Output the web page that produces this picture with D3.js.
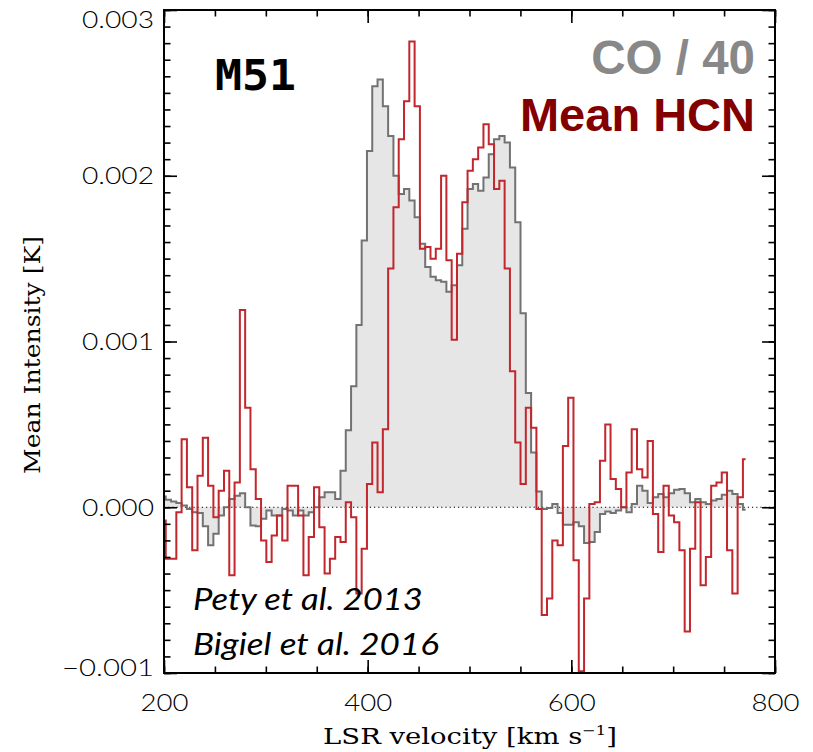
<!DOCTYPE html>
<html>
<head>
<meta charset="utf-8">
<script src="https://cdn.jsdelivr.net/npm/d3@7"></script>
<style>
  html, body { margin: 0; padding: 0; background: #ffffff; }
  svg { display: block; }
</style>
</head>
<body>
<svg id="chart" width="813" height="752"></svg>
<script>
// Channel centre velocities (km/s), common to both spectra
const velocity = [
  199.1,
  204.3, 209.5, 214.7, 219.9, 225.1, 230.3, 235.5, 240.7, 245.9, 251.1,
  256.3, 261.5, 266.7, 271.9, 277.1, 282.3, 287.5, 292.7, 297.9, 303.1,
  308.3, 313.5, 318.7, 323.9, 329.1, 334.3, 339.5, 344.7, 349.9, 355.1,
  360.3, 365.5, 370.7, 375.9, 381.1, 386.3, 391.5, 396.7, 401.9, 407.1,
  412.3, 417.5, 422.7, 427.9, 433.1, 438.3, 443.5, 448.7, 453.9, 459.1,
  464.3, 469.5, 474.7, 479.9, 485.1, 490.3, 495.5, 500.7, 505.9, 511.1,
  516.3, 521.5, 526.7, 531.9, 537.1, 542.3, 547.5, 552.7, 557.9, 563.1,
  568.3, 573.5, 578.7, 583.9, 589.1, 594.3, 599.5, 604.7, 609.9, 615.1,
  620.3, 625.5, 630.7, 635.9, 641.1, 646.3, 651.5, 656.7, 661.9, 667.1,
  672.3, 677.5, 682.7, 687.9, 693.1, 698.3, 703.5, 708.7, 713.9, 719.1,
  724.3, 729.5, 734.7, 739.9, 745.1, 750.3, 755.5, 760.7, 765.9, 771.1
];

// Mean HCN intensity per channel (K)
const hcnMean = [
  -0.8e-4,
  -3.1e-4, -3.1e-4, -0.3e-4,  4.1e-4,  1.2e-4, -2.6e-4,  1.9e-4,  4.2e-4,  1.3e-4, -0.6e-4,
   1.0e-4,  2.2e-4, -4.1e-4,  1.5e-4, 11.9e-4,  6.0e-4,  2.3e-4,  0.5e-4, -2.0e-4, -3.3e-4,
  -1.7e-4, -0.5e-4, -2.0e-4,  1.3e-4,  1.3e-4, -0.5e-4, -4.1e-4, -1.8e-4,  1.2e-4, -1.2e-4,
  -4.0e-4, -3.1e-4, -1.8e-4, -2.1e-4,  0.3e-4, -0.6e-4, -5.2e-4, -2.5e-4,  1.4e-4,  3.9e-4,
   0.9e-4,  4.7e-4, 14.4e-4, 18.1e-4, 22.2e-4, 24.5e-4, 28.1e-4, 24.2e-4, 15.6e-4, 15.7e-4,
  15.0e-4, 15.6e-4, 20.0e-4, 14.9e-4, 10.1e-4, 15.3e-4, 18.4e-4, 20.3e-4, 21.0e-4, 21.7e-4,
  23.1e-4, 21.9e-4, 19.2e-4, 19.7e-4, 14.4e-4,  8.2e-4,  3.9e-4,  1.4e-4,  6.0e-4,  4.8e-4,
  -0.1e-4, -6.5e-4, -5.5e-4, -2.0e-4, -2.3e-4,  3.7e-4,  6.6e-4, -3.2e-4, -9.9e-4, -5.5e-4,
   0.2e-4,  0.3e-4,  2.8e-4,  5.0e-4,  1.7e-4,  1.1e-4,  0.0e-4,  2.1e-4,  4.7e-4,  2.3e-4,
   1.8e-4,  4.0e-4, -0.4e-4, -2.7e-4,  1.3e-4, -0.5e-4, -0.9e-4, -2.6e-4, -7.5e-4, -2.5e-4,
   0.3e-4, -4.7e-4, -3.0e-4,  1.3e-4,  1.5e-4,  2.1e-4, -2.6e-4, -5.2e-4,  0.6e-4,  2.9e-4
];

// CO intensity divided by 40, per channel (K)
const coOver40 = [
   0.65e-4,
   0.45e-4,  0.35e-4,  0.25e-4,  0.10e-4, -0.10e-4, -0.30e-4, -0.35e-4, -1.15e-4, -2.30e-4, -1.60e-4,
  -0.50e-4,  0.00e-4,  0.50e-4,  0.70e-4,  0.85e-4,  0.00e-4, -1.10e-4, -1.15e-4, -0.70e-4, -0.20e-4,
  -0.50e-4, -0.50e-4, -0.10e-4, -0.20e-4, -0.50e-4, -0.20e-4, -0.50e-4, -0.30e-4,  0.00e-4,  0.60e-4,
   0.90e-4,  0.90e-4,  0.50e-4,  2.20e-4,  4.65e-4,  7.30e-4, 11.00e-4, 16.10e-4, 21.50e-4, 25.40e-4,
  25.80e-4, 24.20e-4, 22.40e-4, 20.00e-4, 18.90e-4, 19.20e-4, 18.50e-4, 17.50e-4, 15.90e-4, 14.50e-4,
  13.90e-4, 13.70e-4, 13.60e-4, 13.00e-4, 13.40e-4, 14.60e-4, 16.80e-4, 19.20e-4, 19.50e-4, 19.10e-4,
  19.90e-4, 21.30e-4, 22.20e-4, 22.40e-4, 22.00e-4, 20.50e-4, 17.20e-4, 11.70e-4,  6.90e-4,  3.30e-4,
   0.95e-4, -0.10e-4, -0.05e-4,  0.20e-4, -0.35e-4, -1.05e-4, -1.05e-4, -0.90e-4, -1.15e-4, -2.15e-4,
  -2.10e-4, -1.50e-4, -0.40e-4, -0.25e-4, -0.35e-4, -0.20e-4,  0.00e-4, -0.30e-4,  0.20e-4,  1.30e-4,
   1.00e-4,  0.25e-4,  0.60e-4,  0.80e-4,  0.60e-4,  0.85e-4,  1.05e-4,  1.10e-4,  0.85e-4,  0.30e-4,
   0.50e-4,  0.30e-4,  0.20e-4,  0.40e-4,  0.50e-4,  0.75e-4,  1.00e-4,  0.80e-4,  0.20e-4, -0.15e-4
];

// Axis ticks and their labels
const xMajorTicks = [200, 400, 600, 800];
const xTickLabels = ["200", "400", "600", "800"];
const yMajorTicks = [-0.001, 0.000, 0.001, 0.002, 0.003];
const yTickLabels = ["\u22120.001", "0.000", "0.001", "0.002", "0.003"];

// Panel annotations
const galaxyName = "M51";
const legendEntries = ["CO / 40", "Mean HCN"];
const references = ["Pety et al. 2013", "Bigiel et al. 2016"];

// ---------------------------------------------------------------
const frame = { left: 164, right: 775, top: 10, bottom: 673 };
const colors = { coFill: "#e6e6e6", coLine: "#727272", hcn: "#c1272d",
                 coText: "#888888", hcnText: "#820000" };
const tickFont = "Lato, 'DejaVu Sans', sans-serif";

const svg = d3.select("#chart");
const x = d3.scaleLinear().domain([200, 800]).range([frame.left, frame.right]);
const y = d3.scaleLinear().domain([-0.001, 0.003]).range([frame.bottom, frame.top]);

svg.append("defs").append("clipPath").attr("id", "frameClip")
  .append("rect")
  .attr("x", frame.left).attr("y", frame.top)
  .attr("width", frame.right - frame.left).attr("height", frame.bottom - frame.top);

const plotArea = svg.append("g").attr("clip-path", "url(#frameClip)");

const coPoints = velocity.map((v, i) => ({ v, t: coOver40[i] }));
const hcnPoints = velocity.map((v, i) => ({ v, t: hcnMean[i] }));

// Shaded CO profile (histogram style)
plotArea.append("path")
  .datum(coPoints)
  .attr("fill", colors.coFill)
  .attr("d", d3.area().curve(d3.curveStep)
    .x(d => x(d.v)).y0(y(0)).y1(d => y(d.t)));

// Zero level
plotArea.append("line")
  .attr("x1", x(200)).attr("x2", x(800))
  .attr("y1", y(0)).attr("y2", y(0))
  .attr("stroke", "#000").attr("stroke-width", 1)
  .attr("stroke-dasharray", "1.2,3");

const stepLine = d3.line().curve(d3.curveStep).x(d => x(d.v)).y(d => y(d.t));

plotArea.append("path")
  .datum(coPoints)
  .attr("fill", "none").attr("stroke", colors.coLine)
  .attr("stroke-width", 2).attr("stroke-linejoin", "miter")
  .attr("d", stepLine);

plotArea.append("path")
  .datum(hcnPoints)
  .attr("fill", "none").attr("stroke", colors.hcn)
  .attr("stroke-width", 2).attr("stroke-linejoin", "miter")
  .attr("d", stepLine);

// ---------------------------------------------------------------
// Axes: ticks point inward on all four sides
const xMinorTicks = d3.range(200, 801, 50);
const yMinorTicks = d3.range(-10, 31).map(k => k / 10000);

function tickStyle(g) {
  g.select(".domain").remove();
  g.selectAll(".tick line").attr("stroke", "#000").attr("stroke-width", 1.6);
}

svg.append("g").attr("transform", `translate(0,${frame.bottom})`)
  .call(d3.axisBottom(x).tickValues(xMinorTicks).tickSize(-6.5).tickFormat(""))
  .call(tickStyle);
svg.append("g").attr("transform", `translate(0,${frame.top})`)
  .call(d3.axisTop(x).tickValues(xMinorTicks).tickSize(-6.5).tickFormat(""))
  .call(tickStyle);
svg.append("g").attr("transform", `translate(0,${frame.top})`)
  .call(d3.axisTop(x).tickValues(xMajorTicks).tickSize(-13).tickFormat(""))
  .call(tickStyle);

const xAxis = svg.append("g").attr("transform", `translate(0,${frame.bottom})`)
  .call(d3.axisBottom(x).tickValues(xMajorTicks).tickSize(-13)
    .tickFormat((d, i) => xTickLabels[i]))
  .call(tickStyle);
xAxis.selectAll(".tick text")
  .attr("y", 38).attr("dy", null)
  .attr("font-family", tickFont).attr("font-weight", 300)
  .attr("font-size", 22.5).attr("fill", "#000")
  .attr("textLength", 48).attr("lengthAdjust", "spacingAndGlyphs");

svg.append("g").attr("transform", `translate(${frame.left},0)`)
  .call(d3.axisLeft(y).tickValues(yMinorTicks).tickSize(-6.5).tickFormat(""))
  .call(tickStyle);
svg.append("g").attr("transform", `translate(${frame.right},0)`)
  .call(d3.axisRight(y).tickValues(yMinorTicks).tickSize(-6.5).tickFormat(""))
  .call(tickStyle);
svg.append("g").attr("transform", `translate(${frame.right},0)`)
  .call(d3.axisRight(y).tickValues(yMajorTicks).tickSize(-13).tickFormat(""))
  .call(tickStyle);

const yAxis = svg.append("g").attr("transform", `translate(${frame.left},0)`)
  .call(d3.axisLeft(y).tickValues(yMajorTicks).tickSize(-13)
    .tickFormat((d, i) => yTickLabels[i]))
  .call(tickStyle);
// Keep the outermost labels inside the frame height
yAxis.selectAll(".tick").each(function (d) {
  const off = Math.min(Math.max(y(d), frame.top + 9), frame.bottom - 6) - y(d);
  d3.select(this).select("text")
    .attr("x", -10).attr("y", off).attr("dy", "0.36em")
    .attr("font-family", tickFont).attr("font-weight", 300)
    .attr("font-size", 22.5).attr("fill", "#000")
    .attr("textLength", d < 0 ? 92 : 72).attr("lengthAdjust", "spacingAndGlyphs");
});

// Frame
svg.append("rect")
  .attr("x", frame.left).attr("y", frame.top)
  .attr("width", frame.right - frame.left).attr("height", frame.bottom - frame.top)
  .attr("fill", "none").attr("stroke", "#000").attr("stroke-width", 2);

// ---------------------------------------------------------------
// Text helper: horizontal stretch factor that brings a text to a given width
function fitWidth(textSel, width) {
  const len = textSel.node().getComputedTextLength();
  return width / len;
}

// Axis titles
const yTitle = svg.append("text")
  .attr("font-family", "'DejaVu Serif', 'Liberation Serif', serif")
  .attr("font-size", 22).attr("fill", "#000").attr("text-anchor", "middle")
  .text("Mean Intensity [K]");
const syT = fitWidth(yTitle, 238);
yTitle.attr("transform", `translate(40,355) rotate(-90) scale(${syT},1)`);

const xTitle = svg.append("text")
  .attr("font-family", "'DejaVu Serif', 'Liberation Serif', serif")
  .attr("font-size", 22).attr("fill", "#000").attr("text-anchor", "middle");
xTitle.append("tspan").text("LSR velocity [km s");
xTitle.append("tspan").attr("font-size", 13).attr("dy", -9).text("\u22121");
xTitle.append("tspan").attr("dy", 9).text("]");
const sxT = fitWidth(xTitle, 294);
xTitle.attr("transform", `translate(470,744) scale(${sxT},1)`);

// Galaxy name
const nameText = svg.append("text")
  .attr("font-family", "'DejaVu Sans Mono', monospace")
  .attr("font-weight", "bold").attr("font-size", 43).attr("fill", "#000")
  .text(galaxyName);
nameText.attr("transform", `translate(215,90) scale(${fitWidth(nameText, 81)},1)`);

// Legend labels
svg.append("text")
  .attr("x", 755).attr("y", 74).attr("text-anchor", "end")
  .attr("font-family", "'Liberation Sans', Arial, sans-serif")
  .attr("font-weight", "bold").attr("font-size", 47.5).attr("fill", colors.coText)
  .text(legendEntries[0]);
svg.append("text")
  .attr("x", 755).attr("y", 131).attr("text-anchor", "end")
  .attr("font-family", "'Liberation Sans', Arial, sans-serif")
  .attr("font-weight", "bold").attr("font-size", 47).attr("fill", colors.hcnText)
  .text(legendEntries[1]);

// Data references
[[references[0], 610, 230], [references[1], 655, 246]].forEach(([t, by, w]) => {
  const txt = svg.append("text")
    .attr("font-family", "Lato, 'Open Sans', sans-serif")
    .attr("font-style", "italic").attr("font-size", 31).attr("fill", "#000")
    .text(t);
  txt.attr("transform", `translate(193,${by}) scale(${fitWidth(txt, w)},1)`);
});
</script>
</body>
</html>
